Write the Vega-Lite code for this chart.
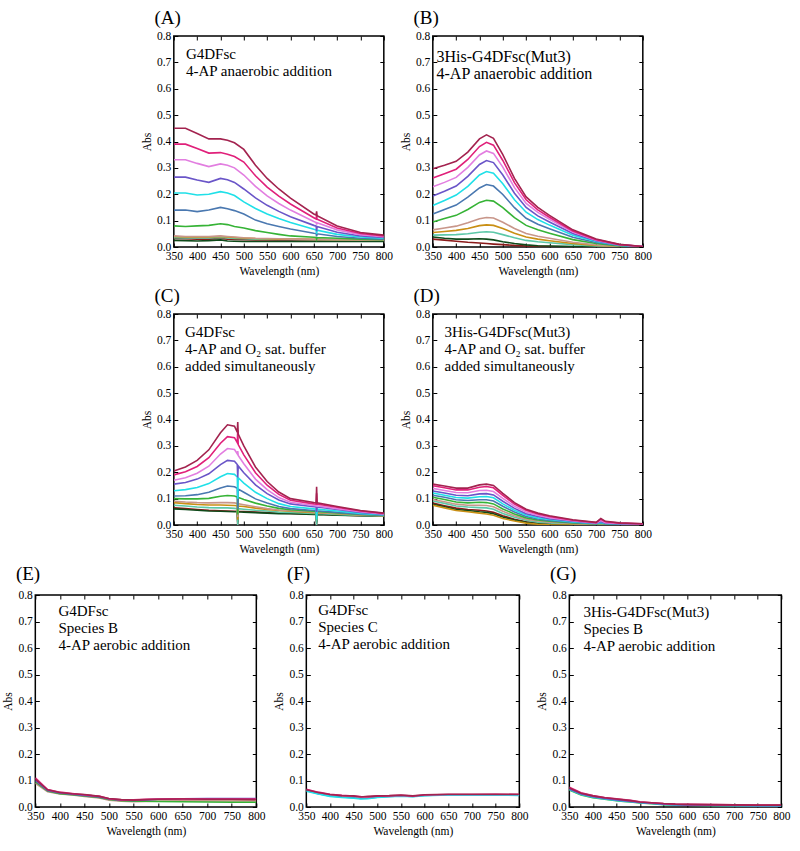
{
"$schema": "https://vega.github.io/schema/vega-lite/v6.json",
"padding": {"left": 2, "top": 8, "right": 5, "bottom": 5},
"background": "white",
"config": {
  "view": {"stroke": "black", "strokeWidth": 1.5},
  "font": "Liberation Serif",
  "axis": {"labelFont": "Liberation Serif", "labelFontSize": 11.5, "labelColor": "black", "titleFont": "Liberation Serif", "titleFontSize": 11.5, "titleFontWeight": "normal", "titleColor": "black", "grid": false, "domain": false, "tickColor": "black", "tickSize": -4, "tickWidth": 1, "labelPadding": 7, "labelFlush": false, "labelOverlap": false, "titlePadding": 4},
  "title": {"font": "Liberation Serif", "fontSize": 19, "fontWeight": "normal", "color": "black", "anchor": "start", "frame": "bounds", "dx": 13, "offset": 2},
  "line": {"strokeWidth": 1.6},
  "text": {"font": "Liberation Serif", "color": "black"}
},
"datasets": {"spectra": [
{"p":"A","w":350,"c1":0.032,"c2":0.025,"c3":0.035,"c4":0.04,"c5":0.042,"c6":0.08,"c7":0.14,"c8":0.205,"c9":0.265,"c10":0.331,"c11":0.39,"c12":0.45},
{"p":"A","w":375,"c1":0.031,"c2":0.024,"c3":0.034,"c4":0.038,"c5":0.04,"c6":0.078,"c7":0.14,"c8":0.205,"c9":0.265,"c10":0.331,"c11":0.39,"c12":0.45},
{"p":"A","w":400,"c1":0.03,"c2":0.023,"c3":0.034,"c4":0.038,"c5":0.04,"c6":0.08,"c7":0.134,"c8":0.197,"c9":0.254,"c10":0.317,"c11":0.373,"c12":0.43},
{"p":"A","w":425,"c1":0.03,"c2":0.024,"c3":0.034,"c4":0.038,"c5":0.04,"c6":0.082,"c7":0.14,"c8":0.2,"c9":0.245,"c10":0.305,"c11":0.356,"c12":0.41},
{"p":"A","w":450,"c1":0.032,"c2":0.027,"c3":0.036,"c4":0.04,"c5":0.042,"c6":0.088,"c7":0.15,"c8":0.21,"c9":0.26,"c10":0.315,"c11":0.358,"c12":0.41},
{"p":"A","w":465,"c1":0.03,"c2":0.023,"c3":0.034,"c4":0.038,"c5":0.04,"c6":0.085,"c7":0.145,"c8":0.205,"c9":0.255,"c10":0.31,"c11":0.352,"c12":0.405},
{"p":"A","w":480,"c1":0.029,"c2":0.022,"c3":0.032,"c4":0.036,"c5":0.038,"c6":0.078,"c7":0.138,"c8":0.195,"c9":0.245,"c10":0.3,"c11":0.343,"c12":0.395},
{"p":"A","w":500,"c1":0.028,"c2":0.021,"c3":0.031,"c4":0.034,"c5":0.035,"c6":0.072,"c7":0.125,"c8":0.171,"c9":0.22,"c10":0.273,"c11":0.322,"c12":0.37},
{"p":"A","w":525,"c1":0.027,"c2":0.021,"c3":0.03,"c4":0.032,"c5":0.033,"c6":0.062,"c7":0.102,"c8":0.146,"c9":0.186,"c10":0.23,"c11":0.27,"c12":0.31},
{"p":"A","w":550,"c1":0.027,"c2":0.021,"c3":0.03,"c4":0.031,"c5":0.032,"c6":0.055,"c7":0.088,"c8":0.125,"c9":0.158,"c10":0.194,"c11":0.227,"c12":0.26},
{"p":"A","w":575,"c1":0.026,"c2":0.021,"c3":0.029,"c4":0.03,"c5":0.031,"c6":0.048,"c7":0.078,"c8":0.108,"c9":0.135,"c10":0.165,"c11":0.193,"c12":0.22},
{"p":"A","w":600,"c1":0.026,"c2":0.021,"c3":0.029,"c4":0.03,"c5":0.03,"c6":0.042,"c7":0.068,"c8":0.093,"c9":0.115,"c10":0.14,"c11":0.163,"c12":0.185},
{"p":"A","w":650,"c1":0.025,"c2":0.021,"c3":0.028,"c4":0.029,"c5":0.029,"c6":0.037,"c7":0.052,"c8":0.067,"c9":0.082,"c10":0.097,"c11":0.111,"c12":0.125},
{"p":"A","w":655,"c1":0.025,"c2":0.021,"c3":0.028,"c4":0.029,"c5":0.029,"c6":0.036,"c7":0.051,"c8":0.065,"c9":0.079,"c10":0.093,"c11":0.106,"c12":0.121},
{"p":"A","w":656,"c1":0.025,"c2":0.021,"c3":0.028,"c4":0.029,"c5":0.029,"c6":0.03,"c7":0.04,"c8":0.05,"c9":0.06,"c10":0.085,"c11":0.12,"c12":0.135},
{"p":"A","w":657,"c1":0.025,"c2":0.021,"c3":0.028,"c4":0.029,"c5":0.029,"c6":0.036,"c7":0.05,"c8":0.064,"c9":0.078,"c10":0.092,"c11":0.105,"c12":0.119},
{"p":"A","w":700,"c1":0.025,"c2":0.021,"c3":0.027,"c4":0.028,"c5":0.028,"c6":0.033,"c7":0.04,"c8":0.048,"c9":0.056,"c10":0.065,"c11":0.072,"c12":0.08},
{"p":"A","w":750,"c1":0.025,"c2":0.021,"c3":0.026,"c4":0.027,"c5":0.027,"c6":0.03,"c7":0.033,"c8":0.038,"c9":0.042,"c10":0.047,"c11":0.051,"c12":0.055},
{"p":"A","w":800,"c1":0.025,"c2":0.021,"c3":0.026,"c4":0.027,"c5":0.027,"c6":0.028,"c7":0.03,"c8":0.033,"c9":0.036,"c10":0.039,"c11":0.042,"c12":0.045},
{"p":"B","w":350,"c1":0.03,"c2":0.038,"c3":0.045,"c4":0.055,"c5":0.065,"c6":0.095,"c7":0.125,"c8":0.157,"c9":0.193,"c10":0.228,"c11":0.262,"c12":0.297},
{"p":"B","w":375,"c1":0.026,"c2":0.033,"c3":0.046,"c4":0.059,"c5":0.072,"c6":0.108,"c7":0.142,"c8":0.176,"c9":0.211,"c10":0.245,"c11":0.278,"c12":0.31},
{"p":"B","w":400,"c1":0.022,"c2":0.03,"c3":0.047,"c4":0.063,"c5":0.079,"c6":0.12,"c7":0.159,"c8":0.197,"c9":0.231,"c10":0.264,"c11":0.295,"c12":0.325},
{"p":"B","w":425,"c1":0.018,"c2":0.03,"c3":0.05,"c4":0.07,"c5":0.092,"c6":0.142,"c7":0.189,"c8":0.23,"c9":0.268,"c10":0.302,"c11":0.332,"c12":0.36},
{"p":"B","w":450,"c1":0.015,"c2":0.031,"c3":0.056,"c4":0.081,"c5":0.107,"c6":0.169,"c7":0.224,"c8":0.273,"c9":0.313,"c10":0.349,"c11":0.381,"c12":0.41},
{"p":"B","w":465,"c1":0.013,"c2":0.03,"c3":0.058,"c4":0.084,"c5":0.112,"c6":0.177,"c7":0.237,"c8":0.286,"c9":0.328,"c10":0.364,"c11":0.397,"c12":0.425},
{"p":"B","w":480,"c1":0.011,"c2":0.027,"c3":0.056,"c4":0.082,"c5":0.11,"c6":0.174,"c7":0.231,"c8":0.28,"c9":0.32,"c10":0.355,"c11":0.386,"c12":0.412},
{"p":"B","w":500,"c1":0.009,"c2":0.02,"c3":0.047,"c4":0.07,"c5":0.094,"c6":0.149,"c7":0.199,"c8":0.24,"c9":0.273,"c10":0.303,"c11":0.328,"c12":0.35},
{"p":"B","w":525,"c1":0.006,"c2":0.013,"c3":0.035,"c4":0.052,"c5":0.07,"c6":0.111,"c7":0.149,"c8":0.179,"c9":0.204,"c10":0.225,"c11":0.244,"c12":0.26},
{"p":"B","w":550,"c1":0.004,"c2":0.008,"c3":0.025,"c4":0.038,"c5":0.051,"c6":0.082,"c7":0.109,"c8":0.132,"c9":0.15,"c10":0.165,"c11":0.179,"c12":0.19},
{"p":"B","w":575,"c1":0.003,"c2":0.005,"c3":0.02,"c4":0.03,"c5":0.041,"c6":0.065,"c7":0.086,"c8":0.104,"c9":0.118,"c10":0.131,"c11":0.141,"c12":0.15},
{"p":"B","w":600,"c1":0.002,"c2":0.004,"c3":0.016,"c4":0.024,"c5":0.033,"c6":0.052,"c7":0.069,"c8":0.083,"c9":0.095,"c10":0.105,"c11":0.113,"c12":0.12},
{"p":"B","w":650,"c1":0.001,"c2":0.002,"c3":0.009,"c4":0.013,"c5":0.018,"c6":0.028,"c7":0.037,"c8":0.045,"c9":0.051,"c10":0.057,"c11":0.061,"c12":0.065},
{"p":"B","w":700,"c1":0,"c2":0.001,"c3":0.004,"c4":0.006,"c5":0.008,"c6":0.013,"c7":0.017,"c8":0.021,"c9":0.024,"c10":0.026,"c11":0.028,"c12":0.03},
{"p":"B","w":750,"c1":0,"c2":0,"c3":0.001,"c4":0.002,"c5":0.003,"c6":0.004,"c7":0.006,"c8":0.007,"c9":0.008,"c10":0.009,"c11":0.009,"c12":0.01},
{"p":"B","w":800,"c1":0,"c2":0,"c3":0,"c4":0,"c5":0.001,"c6":0.001,"c7":0.001,"c8":0.001,"c9":0.002,"c10":0.002,"c11":0.002,"c12":0.002},
{"p":"C","w":350,"c1":0.065,"c2":0.061,"c3":0.075,"c4":0.085,"c5":0.09,"c6":0.1,"c7":0.11,"c8":0.13,"c9":0.155,"c10":0.17,"c11":0.19,"c12":0.205},
{"p":"C","w":375,"c1":0.062,"c2":0.059,"c3":0.072,"c4":0.081,"c5":0.087,"c6":0.099,"c7":0.111,"c8":0.134,"c9":0.161,"c10":0.179,"c11":0.202,"c12":0.22},
{"p":"C","w":400,"c1":0.059,"c2":0.056,"c3":0.068,"c4":0.078,"c5":0.085,"c6":0.099,"c7":0.115,"c8":0.142,"c9":0.174,"c10":0.196,"c11":0.222,"c12":0.245},
{"p":"C","w":425,"c1":0.056,"c2":0.053,"c3":0.066,"c4":0.076,"c5":0.084,"c6":0.101,"c7":0.124,"c8":0.157,"c9":0.194,"c10":0.223,"c11":0.255,"c12":0.285},
{"p":"C","w":450,"c1":0.054,"c2":0.052,"c3":0.065,"c4":0.076,"c5":0.085,"c6":0.109,"c7":0.14,"c8":0.183,"c9":0.229,"c10":0.269,"c11":0.31,"c12":0.35},
{"p":"C","w":465,"c1":0.053,"c2":0.051,"c3":0.065,"c4":0.075,"c5":0.085,"c6":0.112,"c7":0.148,"c8":0.195,"c9":0.245,"c10":0.29,"c11":0.335,"c12":0.38},
{"p":"C","w":480,"c1":0.052,"c2":0.05,"c3":0.063,"c4":0.074,"c5":0.084,"c6":0.11,"c7":0.145,"c8":0.192,"c9":0.242,"c10":0.286,"c11":0.331,"c12":0.375},
{"p":"C","w":486,"c1":0.052,"c2":0.05,"c3":0.062,"c4":0.073,"c5":0.082,"c6":0.106,"c7":0.139,"c8":0.182,"c9":0.229,"c10":0.27,"c11":0.312,"c12":0.352},
{"p":"C","w":487,"c1":0.0,"c2":0.01,"c3":0.0,"c4":0.02,"c5":0.03,"c6":0.04,"c7":0.06,"c8":0.1,"c9":0.18,"c10":0.28,"c11":0.36,"c12":0.39},
{"p":"C","w":488,"c1":0.052,"c2":0.05,"c3":0.062,"c4":0.072,"c5":0.081,"c6":0.105,"c7":0.136,"c8":0.179,"c9":0.224,"c10":0.264,"c11":0.305,"c12":0.345},
{"p":"C","w":500,"c1":0.051,"c2":0.049,"c3":0.06,"c4":0.07,"c5":0.077,"c6":0.097,"c7":0.124,"c8":0.159,"c9":0.198,"c10":0.232,"c11":0.266,"c12":0.3},
{"p":"C","w":525,"c1":0.049,"c2":0.047,"c3":0.056,"c4":0.064,"c5":0.069,"c6":0.083,"c7":0.099,"c8":0.124,"c9":0.152,"c10":0.174,"c11":0.198,"c12":0.22},
{"p":"C","w":550,"c1":0.047,"c2":0.045,"c3":0.053,"c4":0.059,"c5":0.062,"c6":0.072,"c7":0.083,"c8":0.1,"c9":0.119,"c10":0.134,"c11":0.151,"c12":0.165},
{"p":"C","w":575,"c1":0.045,"c2":0.043,"c3":0.049,"c4":0.055,"c5":0.057,"c6":0.063,"c7":0.07,"c8":0.081,"c9":0.095,"c10":0.104,"c11":0.116,"c12":0.125},
{"p":"C","w":600,"c1":0.044,"c2":0.043,"c3":0.048,"c4":0.052,"c5":0.054,"c6":0.058,"c7":0.062,"c8":0.07,"c9":0.08,"c10":0.086,"c11":0.094,"c12":0.1},
{"p":"C","w":650,"c1":0.041,"c2":0.04,"c3":0.044,"c4":0.047,"c5":0.049,"c6":0.052,"c7":0.055,"c8":0.061,"c9":0.069,"c10":0.074,"c11":0.08,"c12":0.085},
{"p":"C","w":655,"c1":0.041,"c2":0.04,"c3":0.044,"c4":0.047,"c5":0.048,"c6":0.051,"c7":0.054,"c8":0.06,"c9":0.068,"c10":0.073,"c11":0.079,"c12":0.084},
{"p":"C","w":656,"c1":0.0,"c2":0.01,"c3":0.0,"c4":0.02,"c5":0.02,"c6":0.02,"c7":0.03,"c8":0.02,"c9":0.05,"c10":0.09,"c11":0.12,"c12":0.145},
{"p":"C","w":657,"c1":0.041,"c2":0.04,"c3":0.044,"c4":0.047,"c5":0.048,"c6":0.051,"c7":0.054,"c8":0.06,"c9":0.068,"c10":0.073,"c11":0.079,"c12":0.084},
{"p":"C","w":700,"c1":0.038,"c2":0.037,"c3":0.04,"c4":0.043,"c5":0.044,"c6":0.046,"c7":0.048,"c8":0.053,"c9":0.059,"c10":0.062,"c11":0.067,"c12":0.07},
{"p":"C","w":750,"c1":0.035,"c2":0.035,"c3":0.036,"c4":0.038,"c5":0.039,"c6":0.04,"c7":0.041,"c8":0.044,"c9":0.048,"c10":0.05,"c11":0.053,"c12":0.055},
{"p":"C","w":800,"c1":0.033,"c2":0.033,"c3":0.034,"c4":0.035,"c5":0.035,"c6":0.036,"c7":0.037,"c8":0.039,"c9":0.041,"c10":0.042,"c11":0.044,"c12":0.045},
{"p":"D","w":350,"c1":0.083,"c2":0.079,"c3":0.091,"c4":0.075,"c5":0.097,"c6":0.105,"c7":0.113,"c8":0.121,"c9":0.129,"c10":0.139,"c11":0.149,"c12":0.155},
{"p":"D","w":375,"c1":0.073,"c2":0.069,"c3":0.082,"c4":0.065,"c5":0.088,"c6":0.097,"c7":0.105,"c8":0.113,"c9":0.121,"c10":0.131,"c11":0.141,"c12":0.148},
{"p":"D","w":400,"c1":0.064,"c2":0.059,"c3":0.072,"c4":0.055,"c5":0.079,"c6":0.087,"c7":0.096,"c8":0.104,"c9":0.113,"c10":0.123,"c11":0.133,"c12":0.14},
{"p":"D","w":425,"c1":0.059,"c2":0.055,"c3":0.068,"c4":0.05,"c5":0.075,"c6":0.084,"c7":0.093,"c8":0.102,"c9":0.111,"c10":0.122,"c11":0.133,"c12":0.14},
{"p":"D","w":450,"c1":0.056,"c2":0.05,"c3":0.066,"c4":0.045,"c5":0.075,"c6":0.086,"c7":0.096,"c8":0.107,"c9":0.118,"c10":0.131,"c11":0.143,"c12":0.152},
{"p":"D","w":465,"c1":0.053,"c2":0.048,"c3":0.065,"c4":0.042,"c5":0.074,"c6":0.085,"c7":0.096,"c8":0.108,"c9":0.119,"c10":0.132,"c11":0.146,"c12":0.155},
{"p":"D","w":480,"c1":0.048,"c2":0.043,"c3":0.06,"c4":0.037,"c5":0.069,"c6":0.08,"c7":0.091,"c8":0.103,"c9":0.114,"c10":0.127,"c11":0.141,"c12":0.15},
{"p":"D","w":500,"c1":0.035,"c2":0.03,"c3":0.044,"c4":0.025,"c5":0.052,"c6":0.061,"c7":0.071,"c8":0.08,"c9":0.09,"c10":0.101,"c11":0.112,"c12":0.12},
{"p":"D","w":525,"c1":0.022,"c2":0.019,"c3":0.029,"c4":0.015,"c5":0.035,"c6":0.042,"c7":0.049,"c8":0.056,"c9":0.063,"c10":0.071,"c11":0.079,"c12":0.085},
{"p":"D","w":550,"c1":0.012,"c2":0.01,"c3":0.018,"c4":0.007,"c5":0.022,"c6":0.027,"c7":0.032,"c8":0.038,"c9":0.043,"c10":0.049,"c11":0.056,"c12":0.06},
{"p":"D","w":575,"c1":0.007,"c2":0.005,"c3":0.011,"c4":0.003,"c5":0.015,"c6":0.019,"c7":0.023,"c8":0.027,"c9":0.032,"c10":0.037,"c11":0.042,"c12":0.045},
{"p":"D","w":600,"c1":0.004,"c2":0.003,"c3":0.008,"c4":0.001,"c5":0.011,"c6":0.014,"c7":0.017,"c8":0.021,"c9":0.024,"c10":0.028,"c11":0.032,"c12":0.035},
{"p":"D","w":650,"c1":0.002,"c2":0.001,"c3":0.004,"c4":0,"c5":0.006,"c6":0.008,"c7":0.01,"c8":0.012,"c9":0.014,"c10":0.016,"c11":0.018,"c12":0.02},
{"p":"D","w":700,"c1":0.001,"c2":0,"c3":0.002,"c4":0,"c5":0.003,"c6":0.004,"c7":0.005,"c8":0.006,"c9":0.007,"c10":0.008,"c11":0.009,"c12":0.01},
{"p":"D","w":710,"c1":0.001,"c2":0,"c3":0.002,"c4":0,"c5":0.004,"c6":0.006,"c7":0.008,"c8":0.01,"c9":0.013,"c10":0.017,"c11":0.022,"c12":0.025},
{"p":"D","w":720,"c1":0.001,"c2":0,"c3":0.002,"c4":0,"c5":0.003,"c6":0.004,"c7":0.005,"c8":0.006,"c9":0.007,"c10":0.009,"c11":0.012,"c12":0.014},
{"p":"D","w":750,"c1":0.001,"c2":0,"c3":0.002,"c4":0,"c5":0.002,"c6":0.003,"c7":0.004,"c8":0.005,"c9":0.005,"c10":0.006,"c11":0.007,"c12":0.008},
{"p":"D","w":800,"c1":0.001,"c2":0,"c3":0.001,"c4":0,"c5":0.001,"c6":0.002,"c7":0.002,"c8":0.003,"c9":0.003,"c10":0.004,"c11":0.005,"c12":0.005},
{"p":"E","w":350,"c5":0.09,"c6":0.095,"c9":0.1,"c11":0.11,"c12":0.105},
{"p":"E","w":375,"c5":0.058,"c6":0.06,"c9":0.062,"c11":0.066,"c12":0.065},
{"p":"E","w":400,"c5":0.049,"c6":0.05,"c9":0.053,"c11":0.056,"c12":0.055},
{"p":"E","w":425,"c5":0.045,"c6":0.046,"c9":0.048,"c11":0.051,"c12":0.05},
{"p":"E","w":450,"c5":0.04,"c6":0.042,"c9":0.044,"c11":0.046,"c12":0.047},
{"p":"E","w":465,"c5":0.037,"c6":0.039,"c9":0.041,"c11":0.043,"c12":0.044},
{"p":"E","w":480,"c5":0.034,"c6":0.036,"c9":0.038,"c11":0.041,"c12":0.04},
{"p":"E","w":500,"c5":0.026,"c6":0.028,"c9":0.03,"c11":0.031,"c12":0.032},
{"p":"E","w":525,"c5":0.022,"c6":0.024,"c9":0.026,"c11":0.027,"c12":0.028},
{"p":"E","w":550,"c5":0.02,"c6":0.022,"c9":0.025,"c11":0.027,"c12":0.026},
{"p":"E","w":575,"c5":0.021,"c6":0.022,"c9":0.027,"c11":0.029,"c12":0.028},
{"p":"E","w":600,"c5":0.022,"c6":0.021,"c9":0.029,"c11":0.03,"c12":0.029},
{"p":"E","w":650,"c5":0.023,"c6":0.02,"c9":0.031,"c11":0.031,"c12":0.03},
{"p":"E","w":700,"c5":0.023,"c6":0.019,"c9":0.032,"c11":0.03,"c12":0.029},
{"p":"E","w":750,"c5":0.023,"c6":0.018,"c9":0.032,"c11":0.03,"c12":0.029},
{"p":"E","w":800,"c5":0.023,"c6":0.018,"c9":0.032,"c11":0.03,"c12":0.028},
{"p":"F","w":350,"c7":0.062,"c8":0.06,"c11":0.067,"c12":0.065},
{"p":"F","w":375,"c7":0.05,"c8":0.049,"c11":0.056,"c12":0.055},
{"p":"F","w":400,"c7":0.042,"c8":0.04,"c11":0.048,"c12":0.047},
{"p":"F","w":425,"c7":0.038,"c8":0.036,"c11":0.044,"c12":0.043},
{"p":"F","w":450,"c7":0.035,"c8":0.033,"c11":0.041,"c12":0.042},
{"p":"F","w":465,"c7":0.032,"c8":0.03,"c11":0.039,"c12":0.038},
{"p":"F","w":480,"c7":0.033,"c8":0.031,"c11":0.038,"c12":0.04},
{"p":"F","w":500,"c7":0.037,"c8":0.036,"c11":0.041,"c12":0.042},
{"p":"F","w":525,"c7":0.04,"c8":0.039,"c11":0.042,"c12":0.043},
{"p":"F","w":550,"c7":0.042,"c8":0.041,"c11":0.044,"c12":0.045},
{"p":"F","w":575,"c7":0.04,"c8":0.039,"c11":0.041,"c12":0.042},
{"p":"F","w":600,"c7":0.044,"c8":0.043,"c11":0.045,"c12":0.046},
{"p":"F","w":650,"c7":0.046,"c8":0.045,"c11":0.047,"c12":0.048},
{"p":"F","w":700,"c7":0.046,"c8":0.045,"c11":0.047,"c12":0.048},
{"p":"F","w":750,"c7":0.046,"c8":0.045,"c11":0.048,"c12":0.048},
{"p":"F","w":800,"c7":0.045,"c8":0.044,"c11":0.047,"c12":0.048},
{"p":"G","w":350,"c6":0.064,"c8":0.066,"c9":0.068,"c11":0.075,"c12":0.072},
{"p":"G","w":375,"c6":0.045,"c8":0.047,"c9":0.049,"c11":0.054,"c12":0.052},
{"p":"G","w":400,"c6":0.035,"c8":0.037,"c9":0.039,"c11":0.043,"c12":0.042},
{"p":"G","w":425,"c6":0.029,"c8":0.03,"c9":0.032,"c11":0.036,"c12":0.035},
{"p":"G","w":450,"c6":0.024,"c8":0.025,"c9":0.027,"c11":0.031,"c12":0.03},
{"p":"G","w":465,"c6":0.021,"c8":0.022,"c9":0.024,"c11":0.028,"c12":0.027},
{"p":"G","w":480,"c6":0.019,"c8":0.02,"c9":0.021,"c11":0.025,"c12":0.024},
{"p":"G","w":500,"c6":0.015,"c8":0.016,"c9":0.017,"c11":0.02,"c12":0.019},
{"p":"G","w":525,"c6":0.012,"c8":0.013,"c9":0.014,"c11":0.016,"c12":0.016},
{"p":"G","w":550,"c6":0.009,"c8":0.01,"c9":0.011,"c11":0.013,"c12":0.013},
{"p":"G","w":575,"c6":0.008,"c8":0.008,"c9":0.009,"c11":0.011,"c12":0.011},
{"p":"G","w":600,"c6":0.007,"c8":0.007,"c9":0.008,"c11":0.01,"c12":0.01},
{"p":"G","w":650,"c6":0.006,"c8":0.006,"c9":0.007,"c11":0.009,"c12":0.009},
{"p":"G","w":700,"c6":0.005,"c8":0.005,"c9":0.006,"c11":0.008,"c12":0.008},
{"p":"G","w":750,"c6":0.004,"c8":0.004,"c9":0.005,"c11":0.007,"c12":0.007},
{"p":"G","w":800,"c6":0.004,"c8":0.004,"c9":0.005,"c11":0.007,"c12":0.007}
]},
"center": true,
"spacing": 8,
"vconcat": [
{"spacing": 5, "hconcat": [
 {"width": 210, "height": 211, "title": {"text": "(A)"},
  "layer": [
   {"data": {"name": "spectra"},
    "transform": [{"filter": "datum.p == 'A'"}, {"fold": ["c1","c2","c3","c4","c5","c6","c7","c8","c9","c10","c11","c12"], "as": ["curve","abs"]}, {"filter": "isValid(datum.abs)"}],
    "mark": {"type": "line", "clip": true},
    "encoding": {
     "x": {"field": "w", "type": "quantitative", "scale": {"domain": [350,800], "nice": false, "zero": false}, "axis": {"title": "Wavelength (nm)", "values": [350,400,450,500,550,600,650,700,750,800]}},
     "y": {"field": "abs", "type": "quantitative", "scale": {"domain": [0,0.8], "nice": false}, "axis": {"title": "Abs", "values": [0,0.1,0.2,0.3,0.4,0.5,0.6,0.7,0.8], "format": ".1f"}},
     "color": {"field": "curve", "type": "nominal", "legend": null, "scale": {"domain": ["c1","c2","c3","c4","c5","c6","c7","c8","c9","c10","c11","c12"], "range": ["#8b1a1a","#0f4a1a","#5cc8a8","#c98f14","#c8968a","#36b336","#4a78b0","#20e0e8","#6a55c8","#e27ee0","#e0207a","#a3234f"]}}
    }},
   {"data": {"values": [{}]},
    "mark": {"type": "text", "text": ["G4DFsc", "4-AP anaerobic addition"], "align": "left", "baseline": "top", "font": "Liberation Serif", "fontSize": 15, "lineHeight": 17},
    "encoding": {
     "x": {"datum": 376, "type": "quantitative", "axis": {"orient": "top", "labels": false, "title": null, "values": [350,400,450,500,550,600,650,700,750,800]}},
     "y": {"datum": 0.759, "type": "quantitative", "axis": {"orient": "right", "labels": false, "title": null, "values": [0,0.1,0.2,0.3,0.4,0.5,0.6,0.7,0.8]}}
    }}
  ],
  "resolve": {"axis": {"x": "independent", "y": "independent"}}
 },
 {"width": 210, "height": 211, "title": {"text": "(B)"},
  "layer": [
   {"data": {"name": "spectra"},
    "transform": [{"filter": "datum.p == 'B'"}, {"fold": ["c1","c2","c3","c4","c5","c6","c7","c8","c9","c10","c11","c12"], "as": ["curve","abs"]}, {"filter": "isValid(datum.abs)"}],
    "mark": {"type": "line", "clip": true},
    "encoding": {
     "x": {"field": "w", "type": "quantitative", "scale": {"domain": [350,800], "nice": false, "zero": false}, "axis": {"title": "Wavelength (nm)", "values": [350,400,450,500,550,600,650,700,750,800]}},
     "y": {"field": "abs", "type": "quantitative", "scale": {"domain": [0,0.8], "nice": false}, "axis": {"title": "Abs", "values": [0,0.1,0.2,0.3,0.4,0.5,0.6,0.7,0.8], "format": ".1f"}},
     "color": {"field": "curve", "type": "nominal", "legend": null, "scale": {"domain": ["c1","c2","c3","c4","c5","c6","c7","c8","c9","c10","c11","c12"], "range": ["#8b1a1a","#0f4a1a","#5cc8a8","#c98f14","#c8968a","#36b336","#4a78b0","#20e0e8","#6a55c8","#e27ee0","#e0207a","#a3234f"]}}
    }},
   {"data": {"values": [{}]},
    "mark": {"type": "text", "text": ["3His-G4DFsc(Mut3)", "4-AP anaerobic addition"], "align": "left", "baseline": "top", "font": "Liberation Serif", "fontSize": 16, "lineHeight": 17},
    "encoding": {
     "x": {"datum": 358, "type": "quantitative", "axis": {"orient": "top", "labels": false, "title": null, "values": [350,400,450,500,550,600,650,700,750,800]}},
     "y": {"datum": 0.752, "type": "quantitative", "axis": {"orient": "right", "labels": false, "title": null, "values": [0,0.1,0.2,0.3,0.4,0.5,0.6,0.7,0.8]}}
    }}
  ],
  "resolve": {"axis": {"x": "independent", "y": "independent"}}
 }
]},
{"spacing": 5, "hconcat": [
 {"width": 210, "height": 211, "title": {"text": "(C)"},
  "layer": [
   {"data": {"name": "spectra"},
    "transform": [{"filter": "datum.p == 'C'"}, {"fold": ["c1","c2","c3","c4","c5","c6","c7","c8","c9","c10","c11","c12"], "as": ["curve","abs"]}, {"filter": "isValid(datum.abs)"}],
    "mark": {"type": "line", "clip": true},
    "encoding": {
     "x": {"field": "w", "type": "quantitative", "scale": {"domain": [350,800], "nice": false, "zero": false}, "axis": {"title": "Wavelength (nm)", "values": [350,400,450,500,550,600,650,700,750,800]}},
     "y": {"field": "abs", "type": "quantitative", "scale": {"domain": [0,0.8], "nice": false}, "axis": {"title": "Abs", "values": [0,0.1,0.2,0.3,0.4,0.5,0.6,0.7,0.8], "format": ".1f"}},
     "color": {"field": "curve", "type": "nominal", "legend": null, "scale": {"domain": ["c1","c2","c3","c4","c5","c6","c7","c8","c9","c10","c11","c12"], "range": ["#8b1a1a","#0f4a1a","#5cc8a8","#c98f14","#c8968a","#36b336","#4a78b0","#20e0e8","#6a55c8","#e27ee0","#e0207a","#a3234f"]}}
    }},
   {"data": {"values": [{}]},
    "mark": {"type": "text", "text": ["G4DFsc", "4-AP and O₂ sat. buffer", "added simultaneously"], "align": "left", "baseline": "top", "font": "Liberation Serif", "fontSize": 15, "lineHeight": 17},
    "encoding": {
     "x": {"datum": 374, "type": "quantitative", "axis": {"orient": "top", "labels": false, "title": null, "values": [350,400,450,500,550,600,650,700,750,800]}},
     "y": {"datum": 0.759, "type": "quantitative", "axis": {"orient": "right", "labels": false, "title": null, "values": [0,0.1,0.2,0.3,0.4,0.5,0.6,0.7,0.8]}}
    }}
  ],
  "resolve": {"axis": {"x": "independent", "y": "independent"}}
 },
 {"width": 210, "height": 211, "title": {"text": "(D)"},
  "layer": [
   {"data": {"name": "spectra"},
    "transform": [{"filter": "datum.p == 'D'"}, {"fold": ["c1","c2","c3","c4","c5","c6","c7","c8","c9","c10","c11","c12"], "as": ["curve","abs"]}, {"filter": "isValid(datum.abs)"}],
    "mark": {"type": "line", "clip": true},
    "encoding": {
     "x": {"field": "w", "type": "quantitative", "scale": {"domain": [350,800], "nice": false, "zero": false}, "axis": {"title": "Wavelength (nm)", "values": [350,400,450,500,550,600,650,700,750,800]}},
     "y": {"field": "abs", "type": "quantitative", "scale": {"domain": [0,0.8], "nice": false}, "axis": {"title": "Abs", "values": [0,0.1,0.2,0.3,0.4,0.5,0.6,0.7,0.8], "format": ".1f"}},
     "color": {"field": "curve", "type": "nominal", "legend": null, "scale": {"domain": ["c1","c2","c3","c4","c5","c6","c7","c8","c9","c10","c11","c12"], "range": ["#8b1a1a","#0f4a1a","#5cc8a8","#c98f14","#c8968a","#36b336","#4a78b0","#20e0e8","#6a55c8","#e27ee0","#e0207a","#a3234f"]}}
    }},
   {"data": {"values": [{}]},
    "mark": {"type": "text", "text": ["3His-G4DFsc(Mut3)", "4-AP and O₂ sat. buffer", "added simultaneously"], "align": "left", "baseline": "top", "font": "Liberation Serif", "fontSize": 15, "lineHeight": 17},
    "encoding": {
     "x": {"datum": 375, "type": "quantitative", "axis": {"orient": "top", "labels": false, "title": null, "values": [350,400,450,500,550,600,650,700,750,800]}},
     "y": {"datum": 0.757, "type": "quantitative", "axis": {"orient": "right", "labels": false, "title": null, "values": [0,0.1,0.2,0.3,0.4,0.5,0.6,0.7,0.8]}}
    }}
  ],
  "resolve": {"axis": {"x": "independent", "y": "independent"}}
 }
]},
{"spacing": 6, "hconcat": [
 {"width": 221, "height": 212, "title": {"text": "(E)", "offset": 5},
  "layer": [
   {"data": {"name": "spectra"},
    "transform": [{"filter": "datum.p == 'E'"}, {"fold": ["c1","c2","c3","c4","c5","c6","c7","c8","c9","c10","c11","c12"], "as": ["curve","abs"]}, {"filter": "isValid(datum.abs)"}],
    "mark": {"type": "line", "clip": true},
    "encoding": {
     "x": {"field": "w", "type": "quantitative", "scale": {"domain": [350,800], "nice": false, "zero": false}, "axis": {"title": "Wavelength (nm)", "values": [350,400,450,500,550,600,650,700,750,800]}},
     "y": {"field": "abs", "type": "quantitative", "scale": {"domain": [0,0.8], "nice": false}, "axis": {"title": "Abs", "values": [0,0.1,0.2,0.3,0.4,0.5,0.6,0.7,0.8], "format": ".1f"}},
     "color": {"field": "curve", "type": "nominal", "legend": null, "scale": {"domain": ["c1","c2","c3","c4","c5","c6","c7","c8","c9","c10","c11","c12"], "range": ["#8b1a1a","#0f4a1a","#5cc8a8","#c98f14","#c8968a","#36b336","#4a78b0","#20e0e8","#6a55c8","#e27ee0","#e0207a","#a3234f"]}}
    }},
   {"data": {"values": [{}]},
    "mark": {"type": "text", "text": ["G4DFsc", "Species B", "4-AP aerobic addition"], "align": "left", "baseline": "top", "font": "Liberation Serif", "fontSize": 15, "lineHeight": 17},
    "encoding": {
     "x": {"datum": 397, "type": "quantitative", "axis": {"orient": "top", "labels": false, "title": null, "values": [350,400,450,500,550,600,650,700,750,800]}},
     "y": {"datum": 0.767, "type": "quantitative", "axis": {"orient": "right", "labels": false, "title": null, "values": [0,0.1,0.2,0.3,0.4,0.5,0.6,0.7,0.8]}}
    }}
  ],
  "resolve": {"axis": {"x": "independent", "y": "independent"}}
 },
 {"width": 213, "height": 212, "title": {"text": "(F)", "offset": 5},
  "layer": [
   {"data": {"name": "spectra"},
    "transform": [{"filter": "datum.p == 'F'"}, {"fold": ["c1","c2","c3","c4","c5","c6","c7","c8","c9","c10","c11","c12"], "as": ["curve","abs"]}, {"filter": "isValid(datum.abs)"}],
    "mark": {"type": "line", "clip": true},
    "encoding": {
     "x": {"field": "w", "type": "quantitative", "scale": {"domain": [350,800], "nice": false, "zero": false}, "axis": {"title": "Wavelength (nm)", "values": [350,400,450,500,550,600,650,700,750,800]}},
     "y": {"field": "abs", "type": "quantitative", "scale": {"domain": [0,0.8], "nice": false}, "axis": {"title": "Abs", "values": [0,0.1,0.2,0.3,0.4,0.5,0.6,0.7,0.8], "format": ".1f"}},
     "color": {"field": "curve", "type": "nominal", "legend": null, "scale": {"domain": ["c1","c2","c3","c4","c5","c6","c7","c8","c9","c10","c11","c12"], "range": ["#8b1a1a","#0f4a1a","#5cc8a8","#c98f14","#c8968a","#36b336","#4a78b0","#20e0e8","#6a55c8","#e27ee0","#e0207a","#a3234f"]}}
    }},
   {"data": {"values": [{}]},
    "mark": {"type": "text", "text": ["G4DFsc", "Species C", "4-AP aerobic addition"], "align": "left", "baseline": "top", "font": "Liberation Serif", "fontSize": 15, "lineHeight": 17},
    "encoding": {
     "x": {"datum": 375, "type": "quantitative", "axis": {"orient": "top", "labels": false, "title": null, "values": [350,400,450,500,550,600,650,700,750,800]}},
     "y": {"datum": 0.769, "type": "quantitative", "axis": {"orient": "right", "labels": false, "title": null, "values": [0,0.1,0.2,0.3,0.4,0.5,0.6,0.7,0.8]}}
    }}
  ],
  "resolve": {"axis": {"x": "independent", "y": "independent"}}
 },
 {"width": 212, "height": 212, "title": {"text": "(G)", "offset": 5},
  "layer": [
   {"data": {"name": "spectra"},
    "transform": [{"filter": "datum.p == 'G'"}, {"fold": ["c1","c2","c3","c4","c5","c6","c7","c8","c9","c10","c11","c12"], "as": ["curve","abs"]}, {"filter": "isValid(datum.abs)"}],
    "mark": {"type": "line", "clip": true},
    "encoding": {
     "x": {"field": "w", "type": "quantitative", "scale": {"domain": [350,800], "nice": false, "zero": false}, "axis": {"title": "Wavelength (nm)", "values": [350,400,450,500,550,600,650,700,750,800]}},
     "y": {"field": "abs", "type": "quantitative", "scale": {"domain": [0,0.8], "nice": false}, "axis": {"title": "Abs", "values": [0,0.1,0.2,0.3,0.4,0.5,0.6,0.7,0.8], "format": ".1f"}},
     "color": {"field": "curve", "type": "nominal", "legend": null, "scale": {"domain": ["c1","c2","c3","c4","c5","c6","c7","c8","c9","c10","c11","c12"], "range": ["#8b1a1a","#0f4a1a","#5cc8a8","#c98f14","#c8968a","#36b336","#4a78b0","#20e0e8","#6a55c8","#e27ee0","#e0207a","#a3234f"]}}
    }},
   {"data": {"values": [{}]},
    "mark": {"type": "text", "text": ["3His-G4DFsc(Mut3)", "Species B", "4-AP aerobic addition"], "align": "left", "baseline": "top", "font": "Liberation Serif", "fontSize": 15, "lineHeight": 17},
    "encoding": {
     "x": {"datum": 380, "type": "quantitative", "axis": {"orient": "top", "labels": false, "title": null, "values": [350,400,450,500,550,600,650,700,750,800]}},
     "y": {"datum": 0.762, "type": "quantitative", "axis": {"orient": "right", "labels": false, "title": null, "values": [0,0.1,0.2,0.3,0.4,0.5,0.6,0.7,0.8]}}
    }}
  ],
  "resolve": {"axis": {"x": "independent", "y": "independent"}}
 }
]}
]
}
